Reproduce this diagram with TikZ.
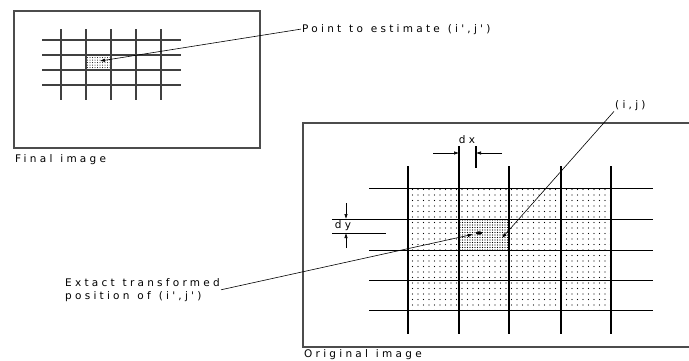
\documentclass[tikz,border=0pt]{standalone}
\usepackage{fontspec}
\newfontfamily\labelfont{DejaVu Sans}[LetterSpace=31,WordSpace=1.2]
\usetikzlibrary{arrows.meta,patterns.meta}

\begin{document}
\begin{tikzpicture}[x=1pt,y=-1pt,
  frame/.style={draw=black!70,line width=1.3pt},
  gridline/.style={line width=1.1pt},
  lead/.style={line width=0.6pt},
  tip/.style={-{Latex[length=5pt,width=3.5pt]}},
  txt/.style={font=\labelfont\fontsize{10.5}{13}\selectfont,inner sep=1pt}]
\useasboundingbox (0,0) rectangle (689,360);
\clip (0,0) rectangle (689,360);

% final image
\draw[frame] (14,11) rectangle (260,148);
\fill[pattern={Dots[distance=2.5pt,radius=0.5pt]}] (86,55) rectangle (111,70);
\foreach \x in {61,86,...,161}
  \draw[gridline,black!75] (\x,29) -- (\x,100);
\foreach \y in {40,55,70,85}
  \draw[gridline,black!75] (42,\y) -- (181,\y);
\coordinate (ptest) at (100,61);
\node[txt,anchor=base west] (finlab) at (14,162) {Final image};
\node[txt,anchor=base west] (ptlab) at (301,32) {Point to estimate (i',j')};
\draw[lead,tip] (ptlab.west) -- (ptest);

% original image
\draw[frame] (695,123) -- (303,123) -- (303,347) -- (695,347);
\fill[pattern={Dots[distance=5.5pt,radius=0.55pt]}] (408,188) rectangle (611,310);
\fill[white] (459,219) rectangle (509,250);
\fill[pattern={Dots[distance=2.5pt,radius=0.55pt]}] (459,219) rectangle (509,250);
\foreach \x in {408,459,509,561,611}
  \draw[gridline] (\x,166) -- (\x,334);
\draw[gridline] (459,146) -- (459,166);
\foreach \y in {188,219,250,280,310}
  \draw[line width=0.9pt] (369,\y) -- (653,\y);
\node[txt,anchor=base west] (orglab) at (303,357.5) {Original image};

% dx and dy
\draw[gridline] (476,146) -- (476,168);
\draw[line width=0.9pt] (332,219) -- (369,219);
\draw[line width=0.9pt] (332,233) -- (386,233);
\draw[lead,tip] (433,153) -- (459,153);
\draw[lead,tip] (502,153) -- (476,153);
\draw[lead,tip] (346,203) -- (346,219);
\draw[lead,tip] (346,248) -- (346,233);
\node[txt] (dxlab) at (467,140) {dx};
\node[txt] (dylab) at (343,226) {dy};

% points
\node[circle,fill,inner sep=0pt,minimum size=3.5pt,xscale=1.8,rotate=-13] (exact) at (479,233) {};
\coordinate (ijpt) at (502,238);
\node[txt,anchor=base west] (ijlab) at (614,108) {(i,j)};
\draw[lead,tip] (ijlab.south west) -- (ijpt);
\node[txt,anchor=north west,align=left] (exlab) at (64,277)
  {Extact transformed\\position of (i',j')};
\draw[lead,tip,shorten >=3pt] (exlab.east) -- (exact);
\end{tikzpicture}
\end{document}
